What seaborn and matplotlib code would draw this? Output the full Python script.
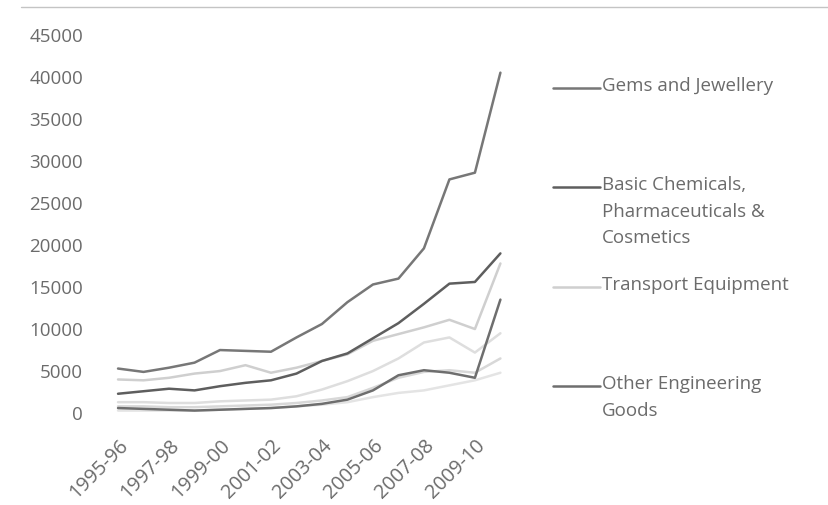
import matplotlib
matplotlib.use("Agg")
import matplotlib.pyplot as plt
from matplotlib.lines import Line2D
import numpy as np
import pandas as pd
import seaborn as sns

# Financial years on the category axis
years = ["1995-96", "1996-97", "1997-98", "1998-99", "1999-00", "2000-01",
         "2001-02", "2002-03", "2003-04", "2004-05", "2005-06", "2006-07",
         "2007-08", "2008-09", "2009-10", "2010-11"]

# Export values (US$ million)
gems_jewellery = [5300, 4900, 5400, 6000, 7500, 7400, 7300, 9000,
                  10600, 13200, 15300, 16000, 19600, 27800, 28600, 40500]
basic_chemicals = [2300, 2600, 2900, 2700, 3200, 3600, 3900, 4700,
                   6200, 7100, 8900, 10700, 13000, 15400, 15600, 19000]
transport_equipment = [4000, 3900, 4200, 4700, 5000, 5700, 4800, 5400,
                       6200, 7000, 8600, 9400, 10200, 11100, 10000, 17800]
other_engineering = [600, 500, 400, 300, 400, 500, 600, 800,
                     1100, 1600, 2700, 4500, 5100, 4800, 4200, 13500]
series_5 = [1300, 1300, 1200, 1200, 1400, 1500, 1600, 2000,
            2800, 3800, 5000, 6500, 8400, 9000, 7200, 9500]
series_6 = [800, 800, 700, 700, 800, 900, 1000, 1200,
            1500, 1900, 3000, 4200, 4900, 5100, 4800, 6500]
series_7 = [300, 300, 300, 300, 400, 500, 600, 800,
            1000, 1300, 1900, 2400, 2700, 3300, 3900, 4800]

legend_names = ["Gems and Jewellery",
                "Basic Chemicals,\nPharmaceuticals &\nCosmetics",
                "Transport Equipment",
                "Other Engineering\nGoods"]
y_ticks = [0, 5000, 10000, 15000, 20000, 25000, 30000, 35000, 40000, 45000]

series = {
    "Series 7": series_7,
    "Series 6": series_6,
    "Series 5": series_5,
    legend_names[2]: transport_equipment,
    legend_names[3]: other_engineering,
    legend_names[1]: basic_chemicals,
    legend_names[0]: gems_jewellery,
}
colors = {
    "Series 7": "#e4e4e4",
    "Series 6": "#d8d8d8",
    "Series 5": "#dedede",
    legend_names[2]: "#cfcfcf",
    legend_names[3]: "#6e6e6e",
    legend_names[1]: "#5e5e5e",
    legend_names[0]: "#777777",
}

rows = []
for name, vals in series.items():
    for i, v in enumerate(vals):
        rows.append({"pos": i, "value": v, "series": name})
df = pd.DataFrame(rows)

sns.set_theme(style="white")
plt.rcParams["font.family"] = ["Open Sans", "DejaVu Sans"]
text_color = "#6b6b6b"
fs = 13.5

fig = plt.figure(figsize=(8.29, 5.05), dpi=100)
ax = fig.add_axes([0.127, 0.182, 0.492, 0.749])

sns.lineplot(data=df, x="pos", y="value", hue="series",
             hue_order=list(series.keys()), palette=colors,
             linewidth=1.8, legend=False, ax=ax, sort=False)

ax.set_xlim(-0.5, len(years) - 0.5)
ax.set_ylim(0, 45000)
ax.set_yticks(y_ticks)
ax.set_yticklabels([str(t) for t in y_ticks], fontsize=fs, color=text_color)
ax.set_xticks(range(0, len(years) - 1, 2))
ax.set_xticklabels(years[0:len(years) - 1:2], rotation=45, ha="right",
                   rotation_mode="anchor", fontsize=14.3, color=text_color)
ax.tick_params(axis="y", length=0, pad=16)
ax.tick_params(axis="x", length=0, pad=16)
ax.set_xlabel("")
ax.set_ylabel("")
for s in ax.spines.values():
    s.set_visible(False)

# Legend drawn beside the plot area
W, H = 829, 505
entries = [(legend_names[0], 88), (legend_names[1], 187),
           (legend_names[2], 287), (legend_names[3], 386)]
for name, ypix in entries:
    yf = 1 - ypix / H
    fig.add_artist(Line2D([553 / W, 600 / W], [yf, yf],
                          color=colors[name], lw=1.8))
    fig.text(602 / W, yf + 0.021, name, ha="left", va="top", fontsize=fs,
             color=text_color, linespacing=1.6)

# Faint frame line along the top edge
fig.add_artist(Line2D([0.025, 1.0], [0.986, 0.986], color="#c4c4c4", lw=1.0))

fig.savefig("out.png", dpi=100, facecolor="white")
